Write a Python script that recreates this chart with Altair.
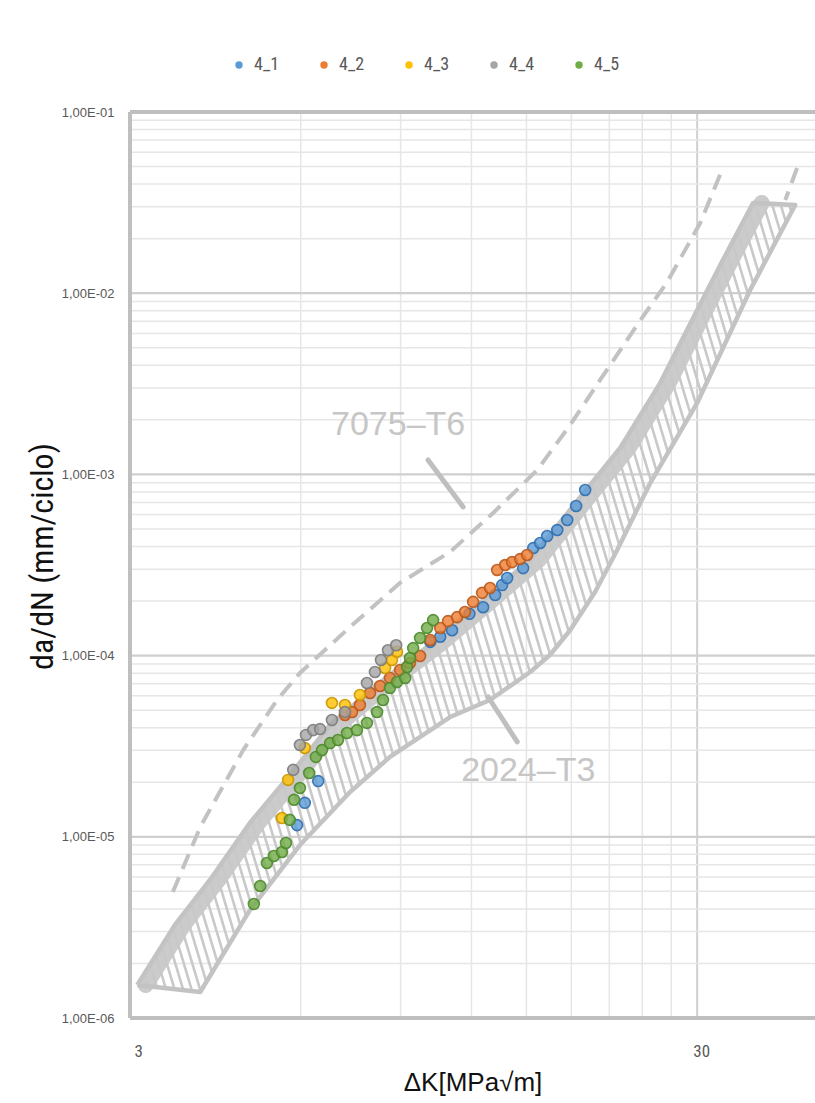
import altair as alt
import numpy as np
import pandas as pd

# ---------------- data ----------------
SERIES = ["4_1", "4_2", "4_3", "4_4", "4_5"]
FILL = ["#5b9bd5", "#ed7d31", "#ffc000", "#a5a5a5", "#70ad47"]
EDGE = ["#2f6fb0", "#b9581c", "#c99600", "#7c7c7c", "#4d8a2c"]

k_41 = [5.91, 6.10, 6.44, 10.15, 10.57, 11.09, 11.9, 12.58, 13.21, 13.59, 13.87, 14.80, 15.42, 15.86, 16.32, 17.00, 17.70, 18.35, 19.04]
d_41 = [1.16e-5, 1.54e-5, 2.03e-5, 1.19e-4, 1.27e-4, 1.38e-4, 1.70e-4, 1.85e-4, 2.16e-4, 2.45e-4, 2.68e-4, 3.04e-4, 3.92e-4, 4.18e-4, 4.57e-4, 4.93e-4, 5.60e-4, 6.69e-4, 8.20e-4]

k_42 = [7.18, 7.39, 7.63, 7.95, 8.28, 8.62, 8.98, 9.35, 9.74, 10.15, 10.57, 10.91, 11.32, 11.69, 12.08, 12.53, 12.94, 13.32, 13.76, 14.15, 14.62, 15.04]
d_42 = [4.70e-5, 4.88e-5, 5.34e-5, 6.22e-5, 6.80e-5, 7.52e-5, 8.33e-5, 9.10e-5, 9.95e-5, 1.22e-4, 1.42e-4, 1.55e-4, 1.63e-4, 1.74e-4, 1.98e-4, 2.22e-4, 2.36e-4, 2.97e-4, 3.16e-4, 3.28e-4, 3.41e-4, 3.59e-4]

k_43 = [5.56, 5.70, 6.10, 6.81, 7.18, 7.63, 8.45, 8.69, 8.87]
d_43 = [1.27e-5, 2.06e-5, 3.09e-5, 5.48e-5, 5.34e-5, 6.06e-5, 8.54e-5, 9.46e-5, 1.05e-4]

k_44 = [5.82, 5.98, 6.13, 6.31, 6.49, 6.81, 7.18, 7.85, 8.11, 8.31, 8.55, 8.84]
d_44 = [2.34e-5, 3.21e-5, 3.65e-5, 3.88e-5, 3.93e-5, 4.41e-5, 4.88e-5, 7.06e-5, 8.12e-5, 9.46e-5, 1.07e-4, 1.14e-4]

k_45 = [4.96, 5.09, 5.23, 5.38, 5.56, 5.65, 5.74, 5.84, 5.98, 6.21, 6.38, 6.54, 6.76, 6.98, 7.24, 7.54, 7.85, 8.18, 8.38, 8.62, 8.87, 9.17, 9.24, 9.35, 9.47, 9.74, 10.02, 10.27]
d_45 = [4.26e-6, 5.35e-6, 7.17e-6, 7.83e-6, 8.24e-6, 9.24e-6, 1.24e-5, 1.60e-5, 1.86e-5, 2.25e-5, 2.76e-5, 3.01e-5, 3.29e-5, 3.42e-5, 3.74e-5, 3.88e-5, 4.25e-5, 4.88e-5, 5.69e-5, 6.63e-5, 7.15e-5, 7.52e-5, 8.65e-5, 9.70e-5, 1.10e-4, 1.25e-4, 1.42e-4, 1.57e-4]

# 2024-T3 scatter band (background reference figure)
band_up_k = [3.09, 3.60, 4.15, 4.88, 5.74, 6.76, 8.28, 10.15, 12.43, 15.23, 18.66, 21.94, 25.81, 30.0, 33.3, 37.66]
band_up_d = [1.52e-6, 3.26e-6, 5.78e-6, 1.192e-5, 2.19e-5, 4.14e-5, 7.06e-5, 1.14e-4, 1.95e-4, 3.37e-4, 7.50e-4, 1.398e-3, 3.19e-3, 8.08e-3, 1.525e-2, 3.15e-2]
band_lo_k = [3.99, 4.88, 5.98, 7.33, 8.62, 11.0, 12.94, 15.23, 16.50, 17.91, 19.82, 21.68, 24.79, 30.0, 37.2, 44.67]
band_lo_d = [1.391e-6, 3.94e-6, 9.01e-6, 1.767e-5, 2.76e-5, 4.58e-5, 5.69e-5, 8.12e-5, 1.008e-4, 1.38e-4, 2.244e-4, 3.83e-4, 8.96e-4, 2.48e-3, 1.042e-2, 3.07e-2]

# 7075-T6 upper bound (dashed)
dash_k = [3.57, 3.99, 4.75, 5.45, 5.98, 7.33, 8.98, 11.0, 13.10, 15.67, 17.91, 20.23, 23.51, 26.56, 30.37, 33.3]
dash_d = [4.96e-6, 1.133e-5, 3.01e-5, 5.69e-5, 8.02e-5, 1.438e-4, 2.52e-4, 3.73e-4, 6.12e-4, 1.057e-3, 1.874e-3, 3.32e-3, 6.68e-3, 1.153e-2, 2.44e-2, 4.91e-2]
dash2_k = [45.0, 42.9]
dash2_d = [4.91e-2, 3.27e-2]

# annotations
ann_text = ["7075\u2013T6", "2024\u2013T3"]
ann_k = [8.91, 15.11]
ann_d = [1.874e-3, 2.307e-5]
ptr_k1 = [10.06, 12.84]
ptr_d1 = [1.201e-3, 5.91e-5]
ptr_k2 = [11.60, 14.45]
ptr_d2 = [6.61e-4, 3.34e-5]

# gridlines
x_grid_minor = [6, 9, 12, 15, 18, 21, 24, 27]
x_grid_major = [30]
y_grid_minor = [m * 10.0 ** e for e in range(-6, -1) for m in range(2, 10)]
y_grid_major = [1e-5, 1e-4, 1e-3, 1e-2]
y_ticks = [1e-6, 1e-5, 1e-4, 1e-3, 1e-2, 1e-1]
x_ticks = [3, 30]

# ---------------- layout ----------------
W, H = 685, 906
X_MIN, X_MAX = 3.0, 48.4
Y_MIN, Y_MAX = 1e-6, 1e-1
PX_X = W / np.log10(X_MAX / X_MIN)
PX_Y = H / np.log10(Y_MAX / Y_MIN)

FONT = "Liberation Sans Narrow, Roboto Condensed, Roboto, Liberation Sans, Arial"
LBL = "#595959"

XS = alt.Scale(type="log", domain=[X_MIN, X_MAX], nice=False)
YS = alt.Scale(type="log", domain=[Y_MIN, Y_MAX], nice=False)
XA = alt.Axis(values=x_ticks, format="d", grid=False, ticks=False, domain=False,
              labelFontSize=17, labelColor=LBL, labelFont=FONT, labelPadding=25,
              labelOffset=4,
              title="\u0394K[MPa\u221am]", titleFontSize=26, titleFontWeight="normal",
              titleColor="#111111", titleFont="Liberation Sans, Arial", titleY=64,
              titleBaseline="middle")
YA = alt.Axis(values=y_ticks, labelExpr="'1,00E-0' + format(round(-log(datum.value)/LN10), 'd')",
              grid=False, ticks=False, domain=False, labelFontSize=13, labelColor=LBL,
              labelFont="Liberation Sans, Arial", labelPadding=16,
              title="da/dN (mm/ciclo)", titleFontSize=32, titleFontWeight="normal",
              titleColor="#111111", titleFont=FONT, titleX=-88, titleY=444,
              titleBaseline="middle", titleAlign="center")


def X(f):
    return alt.X(f"{f}:Q", scale=XS, axis=XA)


def Y(f):
    return alt.Y(f"{f}:Q", scale=YS, axis=YA)


# ---------------- hatch lines computed from band boundaries ----------------
def scr(k, d):
    return np.log10(np.asarray(k) / X_MIN) * PX_X, np.log10(np.asarray(d) / Y_MIN) * PX_Y


def unscr(sx, sy):
    return X_MIN * 10 ** (sx / PX_X), Y_MIN * 10 ** (sy / PX_Y)


ux, uy = scr(band_up_k + [band_lo_k[-1]], band_up_d + [band_lo_d[-1]])
lx, ly = scr([band_up_k[0]] + band_lo_k, [band_up_d[0]] + band_lo_d)
SL = 0.3


def cross(px, py, c):
    f = px + SL * py - c
    for i in range(len(px) - 1):
        if f[i] * f[i + 1] < 0 or f[i] == 0:
            t = f[i] / (f[i] - f[i + 1])
            return px[i] + t * (px[i + 1] - px[i]), py[i] + t * (py[i + 1] - py[i])
    return None


allc = np.concatenate([ux + SL * uy, lx + SL * ly])
hatch = []
for c in np.arange(allc.min() + 2, allc.max(), 8.5):
    a = cross(ux, uy, c)
    b = cross(lx, ly, c)
    if a is not None and b is not None:
        k1, d1 = unscr(*a)
        k2, d2 = unscr(*b)
        hatch.append({"hk1": k1, "hd1": d1, "hk2": k2, "hd2": d2})
hatch_df = pd.DataFrame(hatch)

outline = pd.DataFrame({
    "ok": band_up_k + band_lo_k[::-1] + [band_up_k[0]],
    "od": band_up_d + band_lo_d[::-1] + [band_up_d[0]],
})
outline["o"] = range(len(outline))

dense = pd.DataFrame({"sk": [k * 1.035 for k in band_up_k], "sd": band_up_d})
dense["o"] = range(len(dense))

# ---------------- layers ----------------
gx = pd.DataFrame({"gk": x_grid_minor + x_grid_major,
                   "major": [0] * len(x_grid_minor) + [1] * len(x_grid_major)})
gy = pd.DataFrame({"gd": y_grid_minor + y_grid_major,
                   "major": [0] * len(y_grid_minor) + [1] * len(y_grid_major)})

grid_x = alt.Chart(gx).mark_rule().encode(
    x=X("gk"),
    color=alt.Color("major:N", scale=alt.Scale(domain=[0, 1], range=["#e6e6e6", "#cfcfcf"]), legend=None),
    strokeWidth=alt.StrokeWidth("major:N", scale=alt.Scale(domain=[0, 1], range=[1.5, 2]), legend=None),
)
grid_y = alt.Chart(gy).mark_rule().encode(
    y=Y("gd"),
    color=alt.Color("major:N", scale=alt.Scale(domain=[0, 1], range=["#e6e6e6", "#cfcfcf"]), legend=None),
    strokeWidth=alt.StrokeWidth("major:N", scale=alt.Scale(domain=[0, 1], range=[1.5, 2.2]), legend=None),
)

hatch_layer = alt.Chart(hatch_df).mark_rule(color="#c9c9c9", strokeWidth=2.6).encode(
    x=X("hk1"), y=Y("hd1"), x2=alt.X2("hk2"), y2=alt.Y2("hd2"))

dense_layer = alt.Chart(dense).mark_line(color="#c8c8c8", strokeWidth=16, strokeCap="round",
                                          strokeJoin="round", opacity=0.95).encode(
    x=X("sk"), y=Y("sd"), order="o:Q")

outline_layer = alt.Chart(outline).mark_line(color="#c3c3c3", strokeWidth=4.5,
                                              strokeJoin="round").encode(
    x=X("ok"), y=Y("od"), order="o:Q")

dash_df = pd.DataFrame({"dk": dash_k, "dd": dash_d, "o": range(len(dash_k))})
dash_layer = alt.Chart(dash_df).mark_line(color="#c2c2c2", strokeWidth=4, strokeDash=[16, 9]).encode(
    x=X("dk"), y=Y("dd"), order="o:Q")
dash2_df = pd.DataFrame({"dk": dash2_k, "dd": dash2_d, "o": range(len(dash2_k))})
dash2_layer = alt.Chart(dash2_df).mark_line(color="#c2c2c2", strokeWidth=4, strokeDash=[16, 9]).encode(
    x=X("dk"), y=Y("dd"), order="o:Q")

ann_df = pd.DataFrame({"t": ann_text, "ak": ann_k, "ad": ann_d})
ann_layer = alt.Chart(ann_df).mark_text(fontSize=34, color="#c6c6c6", font="Liberation Sans, Arial",
                                         align="center", baseline="middle").encode(
    x=X("ak"), y=Y("ad"), text="t:N")
ptr_df = pd.DataFrame({"p1": ptr_k1, "q1": ptr_d1, "p2": ptr_k2, "q2": ptr_d2})
ptr_layer = alt.Chart(ptr_df).mark_rule(color="#bfbfbf", strokeWidth=5, strokeCap="round").encode(
    x=X("p1"), y=Y("q1"), x2=alt.X2("p2"), y2=alt.Y2("q2"))

rows = []
for s, ks, ds in zip(SERIES, [k_41, k_42, k_43, k_44, k_45], [d_41, d_42, d_43, d_44, d_45]):
    for k, d in zip(ks, ds):
        rows.append({"series": s, "K": k, "dadN": d})
pts = pd.DataFrame(rows)

points = alt.Chart(pts).mark_circle(size=120, fillOpacity=0.8, strokeWidth=1.6, strokeOpacity=0.9).encode(
    x=X("K"), y=Y("dadN"),
    fill=alt.Fill("series:N", scale=alt.Scale(domain=SERIES, range=FILL),
                  legend=alt.Legend(orient="none", legendX=100, legendY=-56, direction="horizontal",
                                    title=None, symbolType="circle", symbolSize=55,
                                    symbolStrokeWidth=0, labelFontSize=18, labelColor=LBL,
                                    labelFont=FONT, labelOffset=6, columnPadding=35)),
    stroke=alt.Stroke("series:N", scale=alt.Scale(domain=SERIES, range=EDGE), legend=None),
)

frame = pd.DataFrame({"fk": [X_MIN]})
frame_left = alt.Chart(frame).mark_rule(color="#bfbfbf", strokeWidth=4).encode(x=X("fk"))
frame_y = pd.DataFrame({"fd": [Y_MIN, Y_MAX]})
frame_tb = alt.Chart(frame_y).mark_rule(color="#bfbfbf", strokeWidth=4).encode(y=Y("fd"))

chart = alt.layer(
    grid_x, grid_y, hatch_layer, dense_layer, outline_layer, dash_layer, dash2_layer,
    ann_layer, ptr_layer, points, frame_left, frame_tb
).resolve_scale(color="independent", strokeWidth="independent").properties(
    width=W, height=H,
    autosize=alt.AutoSizeParams(type="none"),
    padding={"left": 130, "top": 112, "right": 0, "bottom": 85},
    background="white",
).configure_view(stroke=None)

chart.save("out.html", embed_options={"renderer": "svg", "actions": False})
